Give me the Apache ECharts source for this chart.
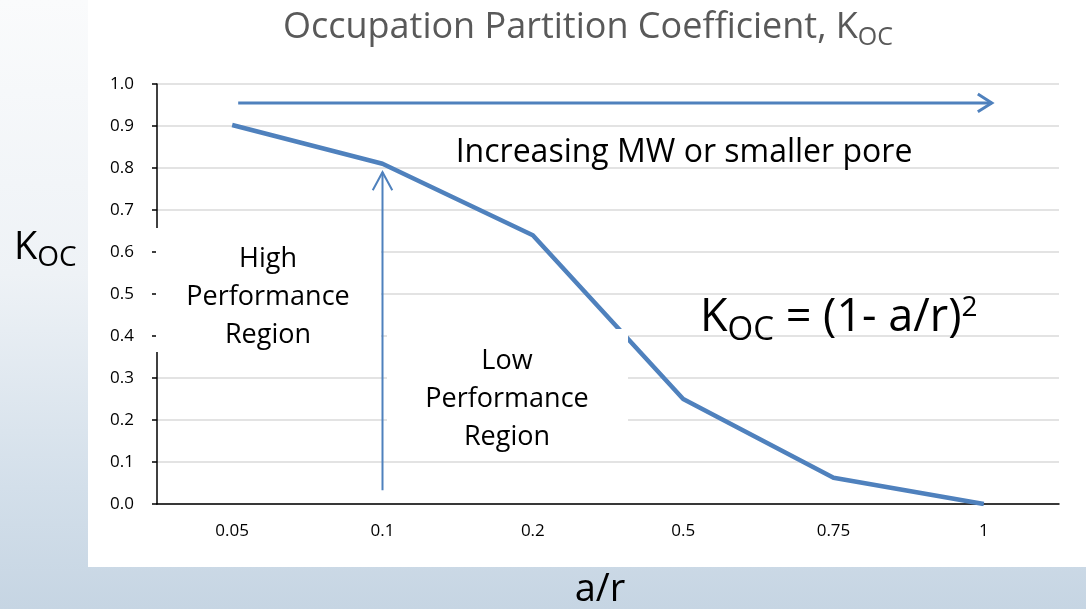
<!DOCTYPE html>
<html>
<head>
<meta charset="utf-8">
<script src="https://cdn.jsdelivr.net/npm/echarts@6/dist/echarts.min.js"></script>
<style>
  html, body { margin: 0; padding: 0; }
  body {
    width: 1086px; height: 609px; position: relative; overflow: hidden;
    background: linear-gradient(to bottom, #fafbfc 0%, #eef2f6 45%, #d3dfea 80%, #c6d5e3 100%);
  }
  .panel { position: absolute; left: 88px; top: 0; width: 998px; height: 567px; background: #fff; }
  #chart { position: absolute; left: 0; top: 0; width: 1086px; height: 609px; }
</style>
</head>
<body>
<div class="panel"></div>
<div id="chart"></div>
<script>
// data
const categories = ["0.05", "0.1", "0.2", "0.5", "0.75", "1"];
const koc = [0.9025, 0.81, 0.64, 0.25, 0.0625, 0];

// annotation arrows, in [category slot, K_OC] units
const mwShaft = [[0.54, 0.955], [5.553, 0.955]];
const mwHead = [[5.46, 0.976], [5.553, 0.955], [5.46, 0.934]];
const poreShaft = [[1.5, 0.033], [1.5, 0.79]];
const poreHead = [[1.435, 0.747], [1.5, 0.79], [1.565, 0.747]];

const blue = "#4f81bd";
const font = "Open Sans";

let chart = echarts.init(document.getElementById("chart"));

let arrow = function (data, width) {
  return {
    type: "line",
    xAxisIndex: 2,
    data: data,
    symbol: "none",
    silent: true,
    z: 10,
    lineStyle: { color: blue, width: width, cap: "butt", join: "miter" }
  };
};

let axisText = { fontSize: 17, fontFamily: font, color: "#000" };

let option = {
  backgroundColor: "transparent",
  animation: false,
  textStyle: { fontFamily: font },
  grid: { left: 157, right: 27, top: 84, bottom: 105, outerBoundsMode: "none" },
  xAxis: [
    {
      type: "category",
      data: categories,
      boundaryGap: true,
      axisLine: { lineStyle: { color: "#000", width: 1.5 } },
      axisTick: { interval: 0, length: 5, lineStyle: { color: "#000", width: 1.5 } },
      axisLabel: {
        interval: 0,
        margin: 19,
        formatter: function (v) { return "{t|" + v + "}"; },
        rich: { t: axisText }
      },
      splitLine: { show: false }
    },
    {
      // centre ticks between the boundary ticks
      type: "category",
      data: categories,
      position: "bottom",
      axisLine: { show: false },
      axisTick: { alignWithLabel: true, interval: 0, length: 5, lineStyle: { color: "#000", width: 1.5 } },
      axisLabel: { show: false },
      splitLine: { show: false }
    },
    {
      type: "value",
      min: 0,
      max: 6,
      show: false
    }
  ],
  yAxis: {
    type: "value",
    min: 0,
    max: 1,
    interval: 0.1,
    axisLine: { show: true, lineStyle: { color: "#000", width: 1.5 } },
    axisTick: { show: true, length: 5, lineStyle: { color: "#000", width: 1.5 } },
    axisLabel: {
      margin: 23,
      formatter: function (v) { return "{t|" + v.toFixed(1) + "}"; },
      rich: { t: axisText }
    },
    splitLine: { lineStyle: { color: "#dadada", width: 1.5 } }
  },
  series: [
    {
      name: "KOC",
      type: "line",
      data: koc,
      symbol: "none",
      z: 3,
      lineStyle: { color: blue, width: 4.5, join: "round" }
    },
    arrow(mwShaft, 3),
    arrow(mwHead, 3),
    arrow(poreShaft, 2),
    arrow(poreHead, 2)
  ],
  graphic: [
    {
      type: "text",
      x: 588,
      y: 28,
      style: {
        text: "Occupation Partition Coefficient, K{sub|OC}",
        align: "center",
        verticalAlign: "middle",
        fill: "#595959",
        font: "36px '" + font + "'",
        rich: { sub: { fontSize: 25, fill: "#595959", fontFamily: font, padding: [20, 0, 0, 0] } }
      }
    },
    {
      type: "text",
      x: 14,
      y: 248,
      style: {
        text: "K{sub|OC}",
        verticalAlign: "middle",
        fill: "#000",
        font: "38px '" + font + "'",
        rich: { sub: { fontSize: 28, fill: "#000", fontFamily: font, padding: [20, 0, 0, 0] } }
      }
    },
    {
      type: "text",
      x: 600,
      y: 590,
      style: {
        text: "a/r", align: "center", verticalAlign: "middle",
        fill: "#000", font: "38px '" + font + "'"
      }
    },
    // white text boxes covering the grid
    { type: "rect", z: 5, shape: { x: 156, y: 228, width: 225, height: 124 }, style: { fill: "#fff" } },
    { type: "rect", z: 5, shape: { x: 387, y: 329, width: 241, height: 126 }, style: { fill: "#fff" } },
    {
      type: "text", z: 6, x: 268, y: 297,
      style: {
        text: "High\nPerformance\nRegion", align: "center", verticalAlign: "middle",
        fill: "#000", font: "27px '" + font + "'", lineHeight: 38
      }
    },
    {
      type: "text", z: 6, x: 507, y: 399,
      style: {
        text: "Low\nPerformance\nRegion", align: "center", verticalAlign: "middle",
        fill: "#000", font: "27px '" + font + "'", lineHeight: 38
      }
    },
    {
      type: "text", z: 6, x: 684, y: 153,
      style: {
        text: "Increasing MW or smaller pore", align: "center", verticalAlign: "middle",
        fill: "#000", font: "32px '" + font + "'"
      }
    },
    {
      type: "text", z: 6, x: 700, y: 318,
      style: {
        text: "K{sub|OC}{b| = (1- a/r)}{sup|2}",
        verticalAlign: "middle",
        fill: "#000",
        font: "45px '" + font + "'",
        rich: {
          sub: { fontSize: 33, fill: "#000", fontFamily: font, padding: [26, 0, 0, 0] },
          b: { fontSize: 45, fill: "#000", fontFamily: font },
          sup: { fontSize: 28, fill: "#000", fontFamily: font, padding: [0, 0, 20, 0] }
        }
      }
    }
  ]
};

chart.setOption(option);
window.addEventListener("resize", function () { chart.resize(); });
</script>
</body>
</html>
